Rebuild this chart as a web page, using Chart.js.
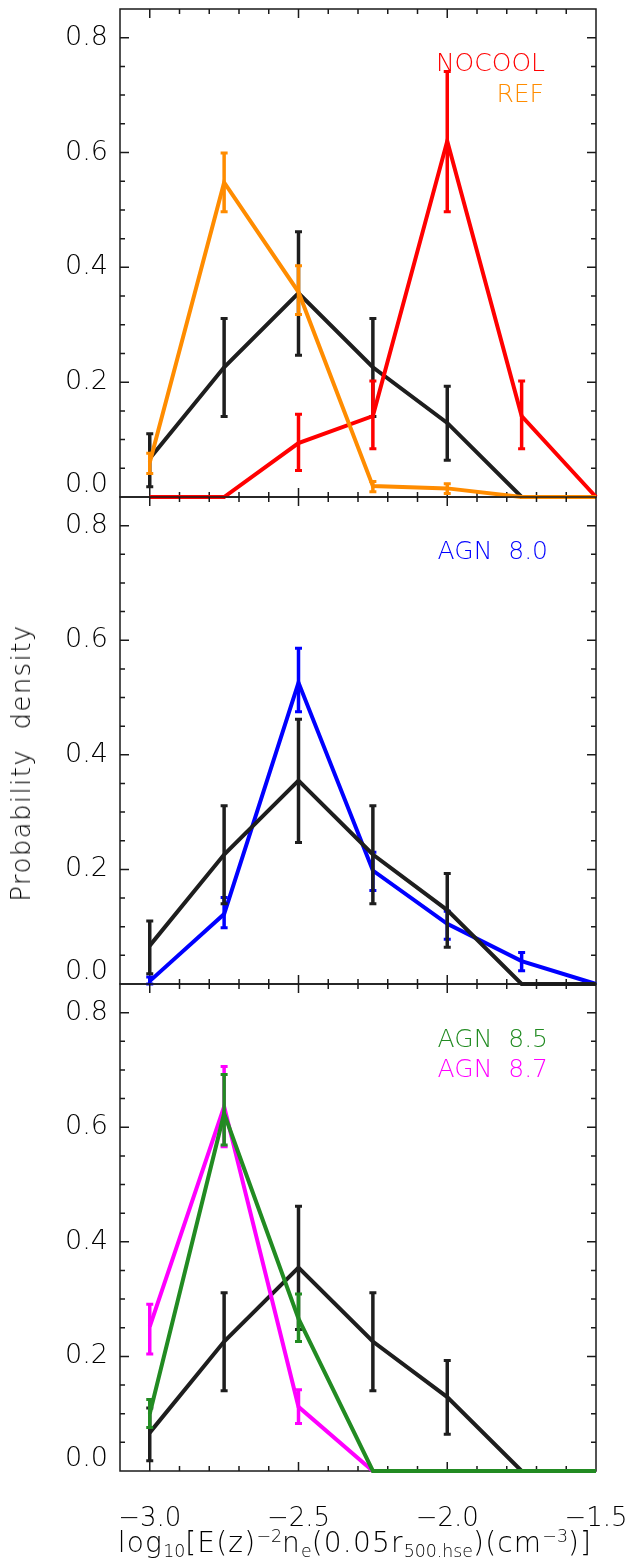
<!DOCTYPE html>
<html>
<head>
<meta charset="utf-8">
<script src="https://cdn.jsdelivr.net/npm/chart.js@4.4.1/dist/chart.umd.min.js"></script>
<style>
html,body{margin:0;padding:0;background:#fff;}
#wrap{position:relative;width:633px;height:1561px;overflow:hidden;font-family:"DejaVu Sans",sans-serif;font-weight:200;color:#000;}
canvas{position:absolute;left:0;top:0;}
.lbl{position:absolute;font-size:25px;line-height:25px;white-space:pre;text-align:right;}
#xtitle{position:absolute;left:0;width:710px;text-align:center;top:1527px;font-size:28px;line-height:31px;white-space:pre;letter-spacing:1.2px;}
#xtitle sub,#xtitle sup{font-size:0.62em;line-height:0;position:relative;vertical-align:baseline;letter-spacing:0;}
#xtitle sub{top:0.26em;}
#xtitle sup{top:-0.55em;}
#ytitle{position:absolute;left:21px;top:763px;transform:translate(-50%,-50%) rotate(-90deg);font-size:26px;line-height:30px;white-space:pre;letter-spacing:1.4px;}
</style>
</head>
<body>
<div id="wrap">
<canvas id="c1" width="633" height="1561"></canvas>
<canvas id="c2" width="633" height="1561"></canvas>
<canvas id="c3" width="633" height="1561"></canvas>
<div class="lbl" style="right:88px;top:50px;color:#ff0000;">NOCOOL</div>
<div class="lbl" style="right:89px;top:81px;color:#ff8c00;">REF</div>
<div class="lbl" style="right:85px;top:538px;color:#0000ff;">AGN  8.0</div>
<div class="lbl" style="right:85px;top:1026px;color:#228b22;">AGN  8.5</div>
<div class="lbl" style="right:85px;top:1056px;color:#ff00ff;">AGN  8.7</div>
<div id="ytitle">Probability  density</div>
<div id="xtitle">log<sub>10</sub>[E(z)<sup>−2</sup>n<sub>e</sub>(0.05r<sub>500.hse</sub>)(cm<sup>−3</sup>)]</div>
</div>
<script>
// ---- data ----
const xValues = [-3.0, -2.75, -2.5, -2.25, -2.0, -1.75, -1.5];
const xTickLabels = ['−3.0', '−2.5', '−2.0', '−1.5'];
const yTickLabels = ['0.0', '0.2', '0.4', '0.6', '0.8'];

const obsVal = [0.067, 0.226, 0.355, 0.226, 0.129, 0, 0];
const obsLo  = [0.018, 0.140, 0.247, 0.140, 0.064, null, null];
const obsHi  = [0.110, 0.311, 0.462, 0.311, 0.193, null, null];

const nocoolVal = [0, 0, 0.094, 0.141, 0.620, 0.141, 0];
const nocoolLo  = [null, null, 0.046, 0.084, 0.497, 0.084, null];
const nocoolHi  = [null, null, 0.144, 0.202, 0.741, 0.202, null];

const refVal = [0.060, 0.548, 0.357, 0.019, 0.015, 0, 0];
const refLo  = [0.041, 0.497, 0.318, 0.009, 0.006, null, null];
const refHi  = [0.076, 0.599, 0.403, 0.027, 0.023, null, null];

const agn80Val = [0.005, 0.122, 0.526, 0.198, 0.105, 0.040, 0];
const agn80Lo  = [0.000, 0.098, 0.475, 0.163, 0.078, 0.023, null];
const agn80Hi  = [0.012, 0.151, 0.586, 0.230, 0.127, 0.055, null];

const agn85Val = [0.100, 0.624, 0.266, 0, 0, 0, 0];
const agn85Lo  = [0.076, 0.569, 0.226, null, null, null, null];
const agn85Hi  = [0.125, 0.692, 0.309, null, null, null, null];

const agn87Val = [0.252, 0.636, 0.112, 0, 0, 0, 0];
const agn87Lo  = [0.204, 0.566, 0.083, null, null, null, null];
const agn87Hi  = [0.291, 0.706, 0.142, null, null, null, null];

// ---- helpers ----
const FONT = '"DejaVu Sans", sans-serif';
const AXIS = '#1a1a1a';
const TXT = '#000000';

function series(vals, lo, hi, color) {
  return {
    data: xValues.map((x, i) => ({x: x, y: vals[i]})),
    errLo: lo, errHi: hi,
    borderColor: color, backgroundColor: color,
    borderWidth: 4, pointRadius: 0, fill: false, tension: 0,
    clip: false, borderJoinStyle: 'miter', borderCapStyle: 'butt'
  };
}

const framePlugin = {
  id: 'frame',
  beforeDatasetsDraw(chart) {
    const {ctx, chartArea: a, scales: {x, y}} = chart;
    ctx.save();
    ctx.strokeStyle = AXIS;
    ctx.lineWidth = 1.5;
    ctx.strokeRect(a.left, a.top, a.right - a.left, a.bottom - a.top);
    ctx.beginPath();
    for (let i = -30; i <= -16; i++) {
      const px = x.getPixelForValue(i / 10);
      const len = (i % 5 === 0) ? 9 : 5;
      ctx.moveTo(px, a.bottom); ctx.lineTo(px, a.bottom - len);
      ctx.moveTo(px, a.top); ctx.lineTo(px, a.top + len);
    }
    for (let k = 1; k <= 16; k++) {
      const py = y.getPixelForValue(k * 0.05);
      const len = (k % 4 === 0) ? 9 : 5;
      ctx.moveTo(a.left, py); ctx.lineTo(a.left + len, py);
      ctx.moveTo(a.right, py); ctx.lineTo(a.right - len, py);
    }
    ctx.stroke();
    ctx.restore();
  },
  afterDatasetDraw(chart, args) {
    const ds = chart.data.datasets[args.index];
    if (!ds.errLo) return;
    const {ctx, scales: {x, y}} = chart;
    ctx.save();
    ctx.strokeStyle = ds.borderColor;
    for (let i = 0; i < xValues.length; i++) {
      if (ds.errLo[i] == null) continue;
      const px = x.getPixelForValue(xValues[i]);
      const y1 = y.getPixelForValue(ds.errLo[i]);
      const y2 = y.getPixelForValue(ds.errHi[i]);
      ctx.lineWidth = 3.5;
      ctx.beginPath();
      ctx.moveTo(px, y1); ctx.lineTo(px, y2);
      ctx.stroke();
      ctx.lineWidth = 3;
      ctx.beginPath();
      ctx.moveTo(px - 3.5, y1); ctx.lineTo(px + 3.5, y1);
      ctx.moveTo(px - 3.5, y2); ctx.lineTo(px + 3.5, y2);
      ctx.stroke();
    }
    ctx.restore();
  }
};

function makeChart(id, datasets, top, bottom, showX) {
  const H = 1561;
  const xH = showX ? 60 : 0;
  new Chart(document.getElementById(id), {
    type: 'line',
    data: {datasets: datasets},
    plugins: [framePlugin],
    options: {
      responsive: false,
      animation: false,
      events: [],
      layout: {padding: {left: 0, right: 633 - 596, top: top, bottom: H - bottom - xH}},
      plugins: {legend: {display: false}, tooltip: {enabled: false}},
      scales: {
        x: {
          type: 'linear', min: -3.1, max: -1.5, display: showX,
          grid: {display: false, drawTicks: false}, border: {display: false},
          ticks: {
            stepSize: 0.5, includeBounds: false, maxRotation: 0, autoSkip: false,
            padding: 33, color: TXT,
            font: {family: FONT, size: 26, weight: 200},
            callback: (v) => {
              const idx = Math.round((v + 3.0) / 0.5);
              return xTickLabels[idx] !== undefined ? xTickLabels[idx] : '';
            }
          },
          afterFit: (s) => { s.height = xH; s.paddingLeft = 0; s.paddingRight = 0; }
        },
        y: {
          type: 'linear', min: 0, max: 0.85, position: 'left',
          grid: {display: false, drawTicks: false}, border: {display: false},
          ticks: {
            stepSize: 0.2, includeBounds: false, padding: 12, color: TXT,
            font: {family: FONT, size: 27, weight: 200, lineHeight: 0.9},
            callback: (v) => {
              const idx = Math.round(v / 0.2);
              const s = yTickLabels[idx];
              return idx === 0 ? [s, ''] : s;
            }
          },
          afterFit: (s) => { s.width = 120; s.paddingTop = 0; s.paddingBottom = 0; }
        }
      }
    }
  });
}

makeChart('c1', [
  series(refVal, refLo, refHi, '#ff8c00'),
  series(nocoolVal, nocoolLo, nocoolHi, '#ff0000'),
  series(obsVal, obsLo, obsHi, '#1e1e1e')
], 9, 497, false);

makeChart('c2', [
  series(obsVal, obsLo, obsHi, '#1e1e1e'),
  series(agn80Val, agn80Lo, agn80Hi, '#0000ff')
], 497, 984, false);

makeChart('c3', [
  series(agn85Val, agn85Lo, agn85Hi, '#228b22'),
  series(agn87Val, agn87Lo, agn87Hi, '#ff00ff'),
  series(obsVal, obsLo, obsHi, '#1e1e1e')
], 984, 1471, true);
</script>
</body>
</html>
